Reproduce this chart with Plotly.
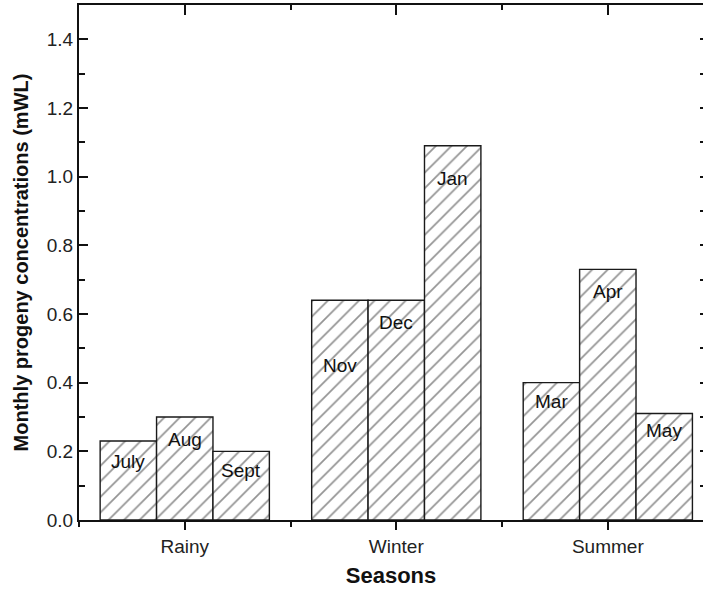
import plotly.graph_objects as go

seasons = ["Rainy", "Winter", "Summer"]
month1 = ["July", "Nov", "Mar"]
month2 = ["Aug", "Dec", "Apr"]
month3 = ["Sept", "Jan", "May"]
values1 = [0.23, 0.64, 0.40]
values2 = [0.30, 0.64, 0.73]
values3 = [0.20, 1.09, 0.31]
label_y1 = [0.17, 0.45, 0.345]
label_y2 = [0.235, 0.575, 0.665]
label_y3 = [0.145, 0.995, 0.26]
y_ticks = [0.0, 0.2, 0.4, 0.6, 0.8, 1.0, 1.2, 1.4]

FONT = "Liberation Sans, Arial, sans-serif"
pattern = dict(shape="/", fgcolor="#2a2a2a", bgcolor="white", size=11, solidity=0.16, fillmode="overlay")

fig = go.Figure()
for vals in (values1, values2, values3):
    fig.add_trace(go.Bar(
        x=list(range(len(seasons))), y=vals,
        marker=dict(color="white", line=dict(color="#1a1a1a", width=1.4), pattern=pattern),
        showlegend=False, hoverinfo="skip",
    ))

bar_w = 0.8 / 3
for k, (names, ly) in enumerate(((month1, label_y1), (month2, label_y2), (month3, label_y3))):
    for i, (nm, yy) in enumerate(zip(names, ly)):
        fig.add_annotation(x=i + (k - 1) * bar_w, y=yy, xref="x", yref="y", text=nm,
                           showarrow=False, font=dict(family=FONT, size=19, color="#111111"))

xr = [-0.5, 2.45]
fig.update_layout(
    width=703, height=589,
    margin=dict(l=79, r=0, t=5, b=69, autoexpand=False),
    paper_bgcolor="white", plot_bgcolor="white",
    barmode="group", bargap=0.2, bargroupgap=0,
    font=dict(family=FONT, color="#111111"),
    xaxis=dict(range=xr, tickvals=list(range(len(seasons))), ticktext=seasons,
               ticks="outside", ticklen=8, tickwidth=1.5, tickcolor="#111111",
               minor=dict(tickvals=[-0.5, 0.5, 1.5, 2.5], ticks="outside", ticklen=5, tickcolor="#111111", tickwidth=1.5),
               showline=True, linecolor="#111111", linewidth=2, mirror=True,
               showgrid=False, zeroline=False, automargin=False,
               tickfont=dict(size=19, family=FONT, color="#222222"),
               title=dict(text="<b>Seasons</b>", font=dict(size=22, family=FONT, color="#111111"), standoff=12)),
    xaxis2=dict(range=xr, overlaying="x", side="top", tickvals=list(range(len(seasons))),
                showticklabels=False, ticks="inside", ticklen=10, tickwidth=1.5, tickcolor="#111111",
                minor=dict(tickvals=[-0.5, 0.5, 1.5, 2.5], ticks="inside", ticklen=5, tickcolor="#111111", tickwidth=1.5),
                showline=False, showgrid=False, zeroline=False, automargin=False),
    yaxis=dict(range=[0, 1.5], tickvals=y_ticks, ticktext=[f"{v:.1f}" for v in y_ticks],
               ticks="inside", ticklen=9, tickwidth=1.5, tickcolor="#111111",
               minor=dict(dtick=0.1, tick0=0, ticks="inside", ticklen=6, tickcolor="#111111", tickwidth=1.5),
               showline=True, linecolor="#111111", linewidth=2, mirror=False,
               showgrid=False, zeroline=False, automargin=False,
               tickfont=dict(size=19, family=FONT, color="#222222"),
               title=dict(text="<b>Monthly progeny concentrations (mWL)</b>", font=dict(size=20, family=FONT, color="#111111"), standoff=13)),
    yaxis2=dict(range=[0, 1.5], overlaying="y", side="right", tickvals=y_ticks,
                showticklabels=False, ticks="inside", ticklen=3, tickwidth=1.5, tickcolor="#111111",
                minor=dict(dtick=0.1, tick0=0, ticks="inside", ticklen=3, tickcolor="#111111", tickwidth=1.5),
                showline=False, showgrid=False, zeroline=False, automargin=False),
)
fig.add_trace(go.Scatter(x=[0], y=[0], xaxis="x2", yaxis="y2", mode="markers",
                         marker=dict(opacity=0), showlegend=False, hoverinfo="skip"))

fig.write_html("out.html")
